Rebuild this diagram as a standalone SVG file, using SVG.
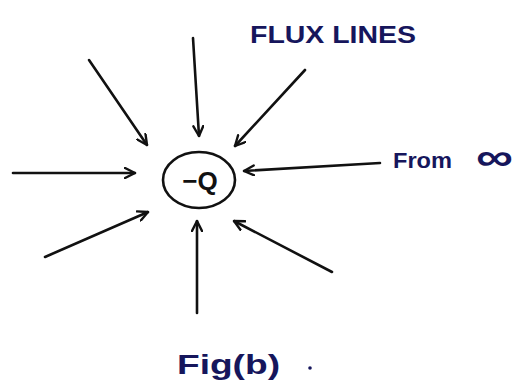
<svg xmlns="http://www.w3.org/2000/svg" width="516" height="382" viewBox="0 0 516 382">
  <style>
    .ln { stroke: #111; stroke-width: 2.6; fill: none; stroke-linecap: round; }
    .lbl { font-family: "Liberation Sans", Arial, sans-serif; fill: #16165c; font-weight: bold; }
  </style>
  <defs>
    <marker id="ah" viewBox="0 0 12 12" refX="11" refY="6" markerWidth="12" markerHeight="12" markerUnits="userSpaceOnUse" orient="auto">
      <polyline points="1,1 11,6 1,11" fill="none" stroke="#111" stroke-width="2.4" stroke-linecap="round" stroke-linejoin="round"/>
    </marker>
  </defs>
  <rect width="516" height="382" fill="#ffffff"/>

  <g id="connectors">
    <line class="ln" x1="193" y1="38" x2="199" y2="136" marker-end="url(#ah)"/>
    <line class="ln" x1="89" y1="60" x2="147" y2="145" marker-end="url(#ah)"/>
    <line class="ln" x1="305" y1="70" x2="235" y2="146" marker-end="url(#ah)"/>
    <line class="ln" x1="13" y1="173" x2="135" y2="173" marker-end="url(#ah)"/>
    <line class="ln" x1="380" y1="163" x2="244" y2="171" marker-end="url(#ah)"/>
    <line class="ln" x1="45" y1="257" x2="148" y2="212" marker-end="url(#ah)"/>
    <line class="ln" x1="197" y1="313" x2="197" y2="221" marker-end="url(#ah)"/>
    <line class="ln" x1="332" y1="272" x2="234" y2="221" marker-end="url(#ah)"/>
  </g>

  <g id="charge">
    <ellipse cx="199" cy="180" rx="36" ry="28" fill="none" stroke="#111" stroke-width="2.6"/>
    <text x="200" y="190" font-size="26" text-anchor="middle" font-family="Liberation Sans, Arial, sans-serif" font-weight="bold" fill="#111">−Q</text>
  </g>

  <g id="label-flux">
    <text class="lbl" x="250" y="43" font-size="24" textLength="166" lengthAdjust="spacingAndGlyphs">FLUX LINES</text>
  </g>

  <g id="label-from">
    <text class="lbl" x="393" y="168" font-size="22" textLength="59" lengthAdjust="spacingAndGlyphs">From</text>
    <text class="lbl" x="476" y="170" font-size="38" textLength="37" lengthAdjust="spacingAndGlyphs">∞</text>
  </g>

  <g id="label-fig">
    <text class="lbl" x="177" y="374" font-size="28" textLength="103" lengthAdjust="spacingAndGlyphs">Fig(b)</text>
    <circle cx="310" cy="368" r="1.8" fill="#16165c"/>
  </g>
</svg>
